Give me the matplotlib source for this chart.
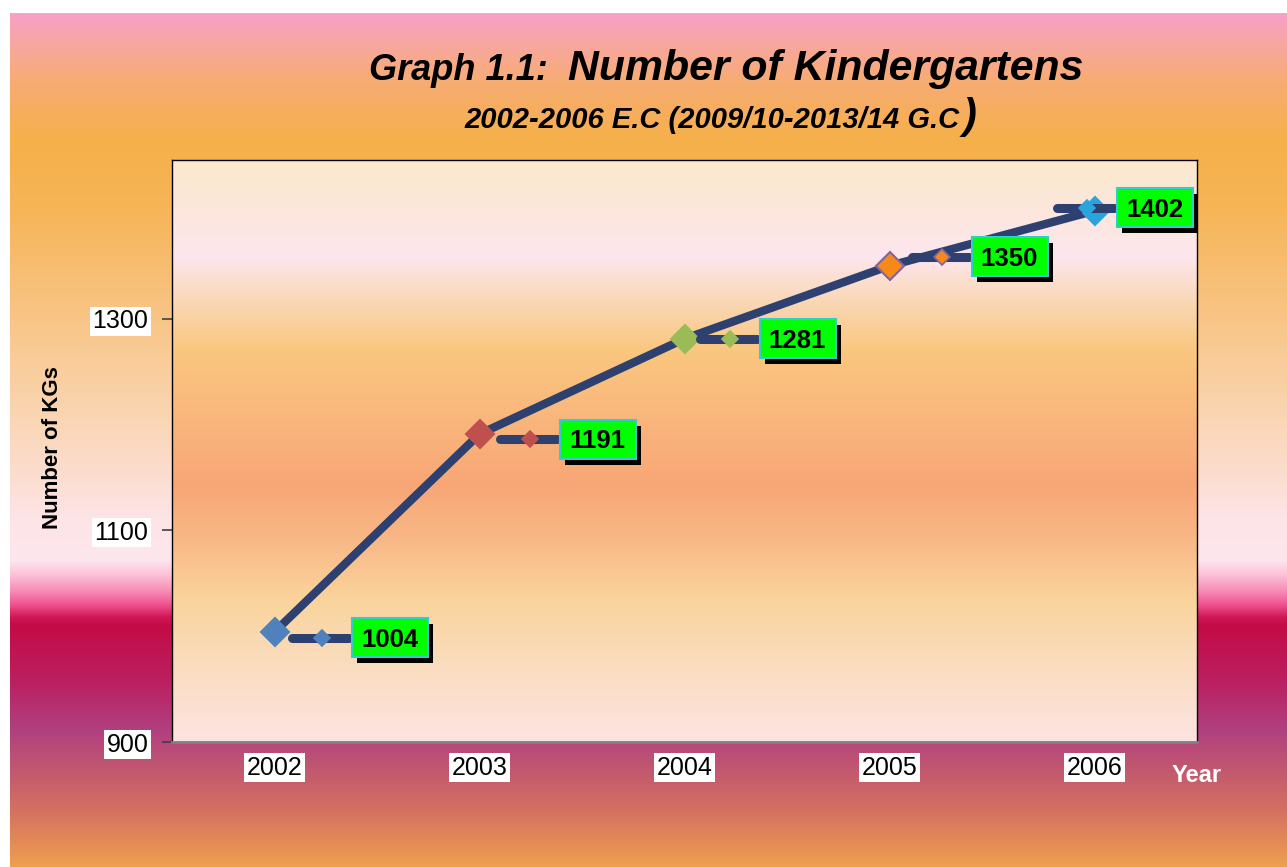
import numpy as np
import matplotlib
matplotlib.use("Agg")
import matplotlib.pyplot as plt
from matplotlib.colors import to_rgb
from matplotlib.patches import Rectangle
from matplotlib.transforms import Affine2D, ScaledTranslation

# -----------------------------------
# DATA
# -----------------------------------
years = ["2002", "2003", "2004", "2005", "2006"]
kg_counts = [1004, 1191, 1281, 1350, 1402]
y_ticks = [900, 1100, 1300]

point_colors = ["#4F81BD", "#C0504D", "#9BBB59", "#F7891A", "#2AA4DC"]
point_edges = ["#4F81BD", "#C0504D", "#9BBB59", "#8064A2", "#2AA4DC"]

# label placement (pixels, relative to each point)
label_dx = [17, 20, 15, 22, -38]
label_dy = [-6, -5, 0, 9, 3]

W, H, DPI = 1287, 867, 100
LINE = "#2E4070"

plt.rcParams['font.family'] = ['Liberation Sans', 'DejaVu Sans']

# background colour stops (pixel row from top, colour)
fig_stops = [
    (13, "#F9A0C8"), (40, "#F8A6A6"), (80, "#F7AC74"), (140, "#F6B04A"),
    (210, "#F6B558"), (300, "#F8C27E"), (420, "#FAD6B4"), (520, "#FDE4E6"),
    (560, "#FDE6EE"), (575, "#FDC0D8"), (590, "#F890B8"), (605, "#F05090"),
    (617, "#D01855"), (625, "#C30B47"), (680, "#BC1F5F"), (730, "#B0407F"),
    (770, "#C25870"), (810, "#D47062"), (867, "#EFA04E"),
]
plot_stops = [
    (160, "#FBE9CC"), (210, "#FCE7DC"), (257, "#FDE6EE"), (300, "#FAD8B8"),
    (350, "#F9C77E"), (420, "#F9B67C"), (485, "#F8A676"), (540, "#F9B886"),
    (600, "#F9D49C"), (660, "#FADCBC"), (742, "#FDE4E2"),
]


def gradient_image(stops, top, bottom):
    rows = np.arange(top, bottom) + 0.5
    pos = [p for p, c in stops]
    cols = np.array([to_rgb(c) for p, c in stops])
    img = np.stack([np.interp(rows, pos, cols[:, k]) for k in range(3)], axis=1)
    return img[:, None, :]


# -----------------------------------
# FIGURE + BACKGROUND
# -----------------------------------
fig = plt.figure(figsize=(W / DPI, H / DPI), dpi=DPI)
fig.patch.set_facecolor("white")

bg = fig.add_axes([10 / W, 0, 1 - 10 / W, 1 - 13 / H], zorder=0)
bg.imshow(gradient_image(fig_stops, 13, H), aspect="auto",
          extent=[0, 1, 0, 1], interpolation="nearest")
bg.axis("off")

ax = fig.add_axes([172 / W, 1 - 742 / H, 1025 / W, 582 / H], zorder=1)
ax.imshow(gradient_image(plot_stops, 160, 742), aspect="auto",
          extent=[-0.5, 4.5, 900, 1450], interpolation="nearest", zorder=0)

# -----------------------------------
# LINE + MARKERS
# -----------------------------------
x = np.arange(len(years))
ax.plot(x, kg_counts, color=LINE, lw=6, zorder=3, solid_capstyle="round")

for i, v in enumerate(kg_counts):
    ax.plot(x[i], v, marker="D", ms=14, mfc=point_colors[i],
            mec=point_edges[i], mew=1.5, zorder=4)

# -----------------------------------
# DATA LABELS
# -----------------------------------
for i, v in enumerate(kg_counts):
    t = Affine2D() + ScaledTranslation(x[i], v, ax.transData)
    dx, dy = label_dx[i], label_dy[i]

    ax.plot([dx, dx + 57], [dy, dy], transform=t, color=LINE, lw=6.5,
            solid_capstyle="round", zorder=5)
    ax.plot([dx + 30], [dy], transform=t, marker="D", ms=8,
            mfc=point_colors[i], mec=point_edges[i], mew=1.2, zorder=5)

    ax.add_patch(Rectangle((dx + 65, dy - 25.5), 76, 39, transform=t,
                           fc="black", ec="none", zorder=6))
    ax.add_patch(Rectangle((dx + 60, dy - 19.5), 76, 39, transform=t,
                           fc="#00FF00", ec="#33CCCC", lw=1.5, zorder=7))
    ax.text(dx + 98, dy - 9, str(v), transform=t, ha="center", va="baseline",
            fontsize=18.5, weight="bold", color="black", zorder=8)

# -----------------------------------
# AXES STYLE
# -----------------------------------
ax.set_xlim(-0.5, 4.5)
ax.set_ylim(900, 1450)

ax.set_xticks(x)
ax.set_xticklabels(years)
ax.set_yticks(y_ticks)
ax.tick_params(axis="x", length=0, pad=10, labelsize=18)
ax.tick_params(axis="y", length=7, width=1.2, color="#404040", pad=10,
               labelsize=18)

for lab in ax.get_xticklabels() + ax.get_yticklabels():
    lab.set_bbox(dict(facecolor="white", edgecolor="none",
                      boxstyle="square,pad=0.1"))

for side in ["top", "left", "right"]:
    ax.spines[side].set_color("black")
    ax.spines[side].set_linewidth(1)
ax.spines["bottom"].set_color("#808080")
ax.spines["bottom"].set_linewidth(2)

# -----------------------------------
# TEXTS
# -----------------------------------
fig.text(548 / W, 1 - 80 / H, "Graph 1.1:", ha="right", va="baseline",
         fontsize=26, weight="bold", style="italic")
fig.text(568 / W, 1 - 80 / H, "Number of Kindergartens", ha="left",
         va="baseline", fontsize=30.8, weight="bold", style="italic")
fig.text(464 / W, 1 - 128 / H, "2002-2006 E.C (2009/10-2013/14 G.C",
         ha="left", va="baseline", fontsize=21, weight="bold", style="italic")
fig.text(963 / W, 1 - 128 / H, ")", ha="left", va="baseline",
         fontsize=30, weight="bold", style="italic")

fig.text(53 / W, 1 - 448 / H, "Number of KGs", rotation=90, ha="center",
         va="center", fontsize=16, weight="bold")
fig.text(1197 / W, 1 - 775 / H, "Year", ha="center", va="center",
         fontsize=17, weight="bold", color="white")

fig.savefig("out.png", dpi=DPI)
